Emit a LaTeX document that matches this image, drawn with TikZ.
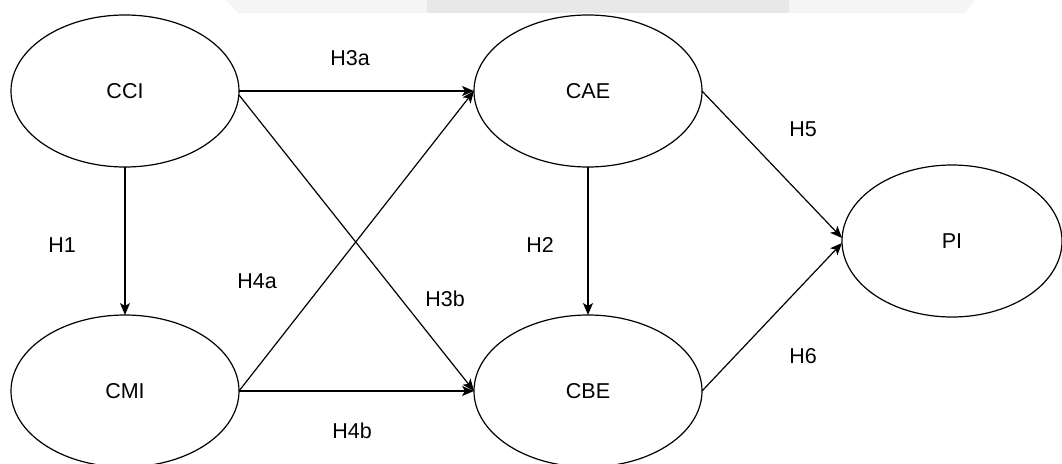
\documentclass[tikz,border=0pt]{standalone}
\usepackage{fontspec}
\setmainfont{Liberation Sans}
\usetikzlibrary{arrows.meta,shapes.geometric}

\begin{document}
\begin{tikzpicture}[x=1pt,y=-1pt,>={Stealth[length=12pt,width=10pt,inset=3pt]},
 font=\fontsize{21.5}{25}\selectfont,
 var/.style={draw,ellipse,line width=1.2pt,minimum width=228pt,minimum height=152pt,inner sep=0pt,outer sep=0pt},
 link/.style={->,line width=1.2pt},
 hyp/.style={inner sep=0pt}]
\useasboundingbox (0,0) rectangle (1062,463);
% faint band at the top
\fill[black!4] (226,0) -- (238,13) -- (427,13) -- (427,0) -- cycle;
\fill[black!9] (427,0) rectangle (789,13);
\fill[black!4] (789,0) -- (975,0) -- (966,13) -- (789,13) -- cycle;
% constructs
\node[var] (cci) at (125,91) {CCI};
\node[var] (cmi) at (125,391) {CMI};
\node[var] (cae) at (588,91) {CAE};
\node[var] (cbe) at (588,391) {CBE};
\node[var,minimum width=220pt] (intent) at (952,241) {PI};
% paths
\draw[link] (cci.south) -- (cmi.north);
\draw[link] (cae.south) -- (cbe.north);
\draw[link] (cci.east) -- (cae.west);
\draw[link] ([yshift=-4pt]cci.east) -- (cbe.west);
\draw[link] (cmi.east) -- (cae.west);
\draw[link] (cmi.east) -- (cbe.west);
\draw[link] (cae.east) -- ([yshift=3pt]intent.west);
\draw[link] (cbe.east) -- ([yshift=-2pt]intent.west);
% hypotheses
\node[hyp] (h1) at (62,245) {H1};
\node[hyp] (h2) at (540,245) {H2};
\node[hyp] (h3a) at (350,58) {H3a};
\node[hyp] (h3b) at (445,299) {H3b};
\node[hyp] (h4a) at (257,281) {H4a};
\node[hyp] (h4b) at (352,431) {H4b};
\node[hyp] (h5) at (803,129) {H5};
\node[hyp] (h6) at (803,356) {H6};
\end{tikzpicture}
\end{document}
